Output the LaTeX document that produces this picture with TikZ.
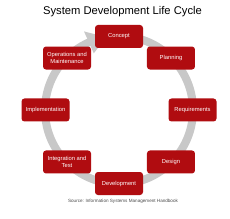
\documentclass[tikz,border=0pt]{standalone}
\usepackage{fontspec}
\setmainfont{Liberation Sans}
\usetikzlibrary{calc}
\definecolor{boxred}{HTML}{B00C10}
\definecolor{ringgray}{HTML}{C8C8C8}
\tikzset{
  stage/.style={fill=boxred, rounded corners=3pt, minimum width=48pt, minimum height=23pt,
    inner sep=1pt, text=white, font=\fontsize{5.8}{6.6}\selectfont, align=center},
  ring/.style={draw=ringgray, line width=8pt}
}
\begin{document}
\begin{tikzpicture}[x=1pt,y=-1pt]
\useasboundingbox (0,0) rectangle (230,219);
\fill[white] (0,0) rectangle (230,219);
\coordinate (c) at (119,110);
\node (title) at (122.5,12) {\fontsize{11.2}{12}\selectfont System Development Life Cycle};
% ring
\draw[ring] (c) ++(80:74pt) arc[start angle=80, end angle=-247, radius=74pt];
\fill[ringgray] ($(c)+(114:62pt)$) -- ($(c)+(114:86pt)$) -- ($(c)+(100:74pt)$) -- cycle;
% stages
\node[stage] (concept) at ($(c)+(90:73.5pt)$) {Concept};
\node[stage] (planning) at ($(c)+(45:73.5pt)$) {Planning};
\node[stage] (req) at ($(c)+(0:73.5pt)$) {Requirements};
\node[stage] (design) at ($(c)+(-45:73.5pt)$) {Design};
\node[stage] (dev) at ($(c)+(-90:73.5pt)$) {Development};
\node[stage] (integ) at ($(c)+(-135:73.5pt)$) {Integration and\\Test};
\node[stage] (impl) at ($(c)+(180:73.5pt)$) {Implementation};
\node[stage] (ops) at ($(c)+(135:73.5pt)$) {Operations and\\Maintenance};
\node[text=black!70, font=\fontsize{4.6}{5}\selectfont] (src) at (123,201) {Source: Information Systems Management Handbook};
\end{tikzpicture}
\end{document}
